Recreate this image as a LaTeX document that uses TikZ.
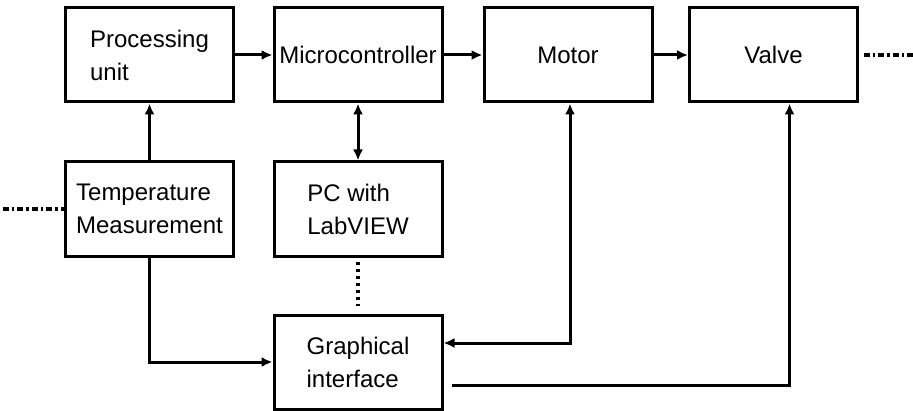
\documentclass[tikz,border=0pt]{standalone}
\usepackage{fontspec}
\setmainfont{Liberation Sans}
\usetikzlibrary{calc, arrows.meta}

\begin{document}
\begin{tikzpicture}[x=0.5pt, y=-0.5pt, line width=1.5pt,
  >={Latex[length=5.5pt, width=5pt]},
  block/.style={draw, minimum width=84pt, minimum height=47pt, inner sep=0pt,
    align=left, font=\fontsize{12}{16.5}\selectfont},
  link/.style={->},
  twoway/.style={<->},
  dashdot/.style={line width=1.6pt, dash pattern=on 3pt off 1.5pt on 1.2pt off 1.5pt},
  dotline/.style={line width=1.6pt, dash pattern=on 1.5pt off 2pt}]
  \useasboundingbox (0,0) rectangle (913,411);

  \node[block] (pu)    at (149.5, 55)  {Processing\\unit};
  \node[block] (mc)    at (358, 55)    {Microcontroller};
  \node[block] (motor) at (568, 55)    {Motor};
  \node[block] (valve) at (773.5, 55)  {Valve};
  \node[block] (tm)    at (149.5, 209) {Temperature\\Measurement};
  \node[block] (pc)    at (358, 209)   {PC with\\LabVIEW};
  \node[block] (gi)    at (358, 362)   {Graphical\\interface};

  % loose ends of the chain
  \coordinate (in)  at (3, 209);
  \coordinate (out) at (913, 55);

  \draw[link] (pu) -- (mc);
  \draw[link] (mc) -- (motor);
  \draw[link] (motor) -- (valve);
  \draw[link] (tm) -- (pu);
  \draw[twoway] (mc) -- (pc);
  \draw[dotline] ([yshift=-2pt]pc.south) -- ([yshift=4pt]gi.north);
  \draw[link] (tm.south) |- (gi.west);

  % feedback into motor and valve
  \draw[twoway] ([yshift=9.5pt]gi.east) -| ($(motor.south)+(2,0)$);
  \draw[link] ([xshift=4pt, yshift=-11.5pt]gi.east) -| ($(valve.south)+(16,0)$);

  \draw[dashdot] (in) -- (tm.west);
  \draw[dashdot] ([xshift=2.5pt]valve.east) -- (out);
\end{tikzpicture}
\end{document}
